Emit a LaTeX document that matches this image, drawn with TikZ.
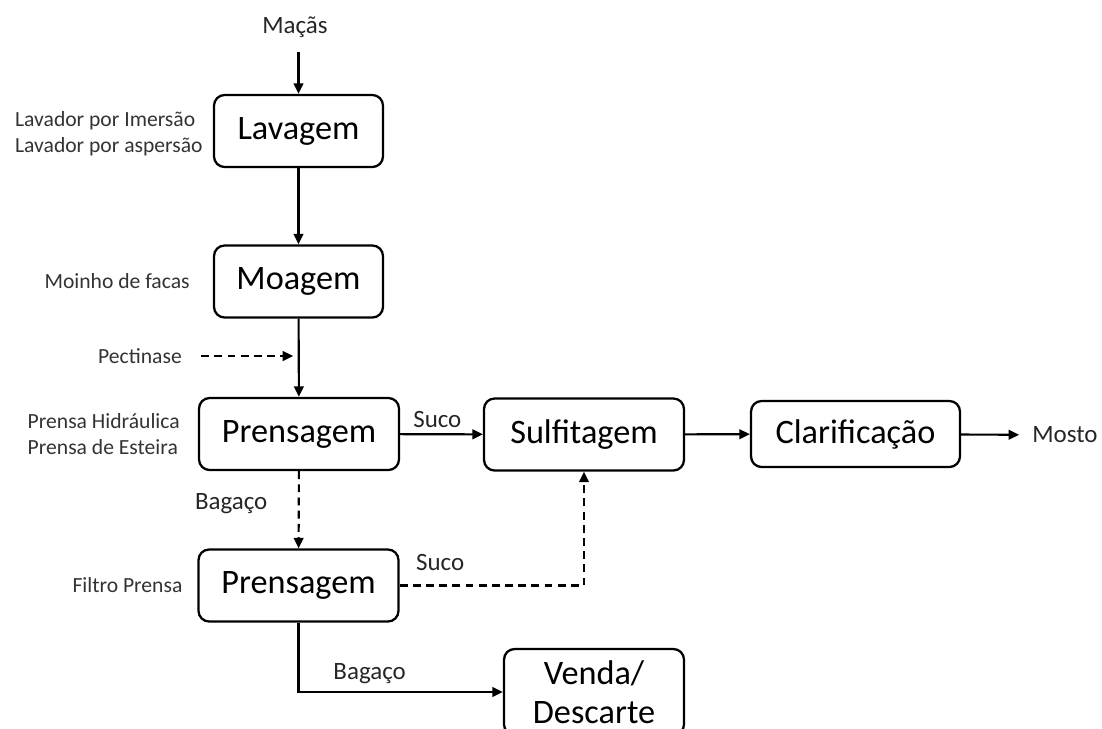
\documentclass[tikz,border=0pt]{standalone}
\usepackage{fontspec}
\setmainfont{Carlito}
\usetikzlibrary{positioning, arrows.meta}

\begin{document}
\begin{tikzpicture}[
            x=0.02cm, y=-0.02cm, % coordenadas em pixels da figura
            >={Triangle[length=6pt, width=5.5pt]},
            etapa/.style={draw, line width=1.3pt, rounded corners=6pt, minimum height=1.44cm, align=center, font=\fontsize{19.5}{22}\selectfont},
            equip/.style={font=\fontsize{12.3}{15.2}\selectfont, align=left, text=black!80},
            rota/.style={font=\fontsize{14.2}{16}\selectfont, text=black!85},
            fluxo/.style={->, line width=1.2pt},
            tracejado/.style={->, line width=1.2pt, dash pattern=on 4.5pt off 3pt}
        ]

        \useasboundingbox (0,0) rectangle (1102,728);

        % --- Etapas do processo ---
        \node[etapa, minimum width=3.38cm] (lavagem) at (298.5,131) {Lavagem};
        \node[etapa, minimum width=3.38cm] (moagem) at (298.5,281.5) {Moagem};
        \node[etapa, minimum width=4cm] (prensagem) at (299,434) {Prensagem};
        \node[etapa, minimum width=4cm] (sulfitagem) at (584,434.5) {Sulfitagem};
        \node[etapa, minimum width=4.18cm, minimum height=1.32cm] (clarificacao) at (855.5,434) {Clarificação};
        \node[etapa, minimum width=4cm] (filtro) at (298.5,585.5) {Prensagem};
        \node[etapa, minimum width=3.6cm, minimum height=1.72cm] (venda) at (594,692) {Venda/\\Descarte};

        % --- Entrada e saída ---
        \node[rota] (macas) at (295,27) {Maçãs};
        \node[rota] (mosto) at (1065,435) {Mosto};

        % Equipamentos de cada etapa
        \node[equip, left=2.3pt of lavagem, yshift=-1.5pt] (lavador) {Lavador por Imersão\\Lavador por aspersão};
        \node[equip, left=9.7pt of moagem] (moinho) {Moinho de facas};
        \node[equip, left=6.8pt of prensagem] (prensa) {Prensa Hidráulica\\Prensa de Esteira};
        \node[equip, left=5pt of filtro] (filtroprensa) {Filtro Prensa};
        \node[equip] (pectinase) at (140,356) {Pectinase};

        % --- Fluxos ---
        \draw[fluxo, shorten <=5pt] (macas.south -| lavagem.north) -- (lavagem.north);
        \draw[fluxo] (lavagem) -- (moagem);
        \draw[fluxo] (moagem) -- (prensagem);
        \draw[tracejado, shorten <=7.5pt, shorten >=3pt] (pectinase.east) -- (pectinase.east -| moagem.south);
        \draw[fluxo] (prensagem) -- node[rota, above, pos=0.45] {Suco} (sulfitagem);
        \draw[fluxo] (sulfitagem) -- (clarificacao);
        \draw[fluxo, shorten >=4pt] (clarificacao) -- (mosto);

        % Bagaço vai para a segunda prensagem
        \draw[tracejado] (prensagem) -- node[rota, pos=0.42, left=14pt] {Bagaço} (filtro);
        \draw[tracejado] (filtro.east) -| node[rota, pos=0.11, above=4.5pt] {Suco} (sulfitagem.south);
        \draw[fluxo] (filtro.south) |- node[rota, pos=0.674, above=1pt] {Bagaço} (venda.west);

        \end{tikzpicture}
\end{document}
